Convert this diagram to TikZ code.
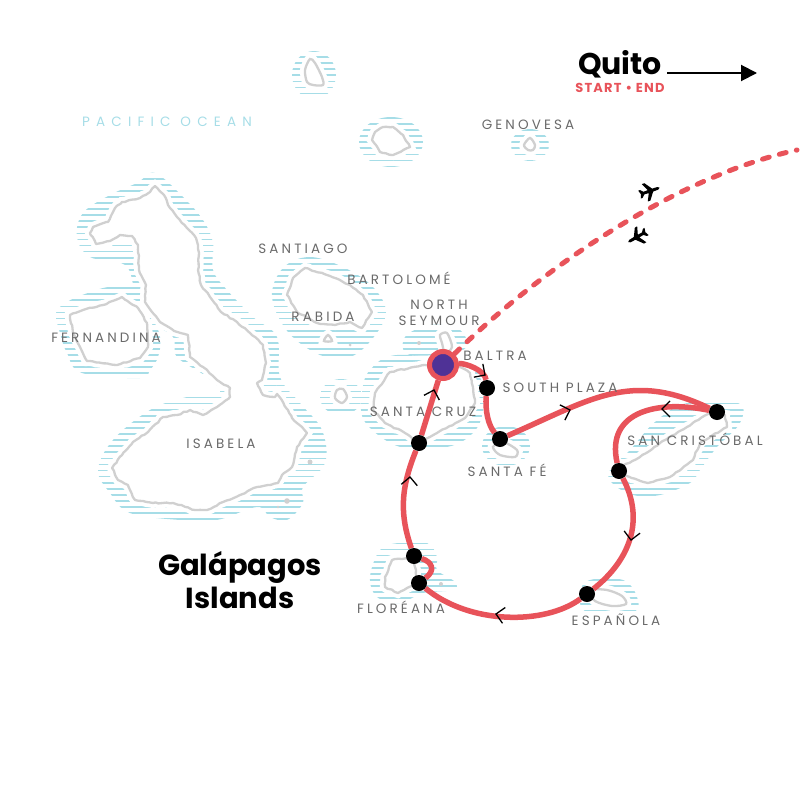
\documentclass[tikz,border=0pt]{standalone}
\usepackage{fontspec}
\setmainfont{Poppins}
\newfontfamily\placefont[LetterSpace=23]{Poppins}
\newfontfamily\oceanfont[LetterSpace=46]{Poppins}
\newfontfamily\startfont[LetterSpace=9]{Poppins}
\usetikzlibrary{arrows.meta, positioning, decorations.pathmorphing}
\definecolor{routered}{HTML}{E8535A}
\definecolor{hubpurple}{HTML}{4F3296}
\definecolor{seablue}{HTML}{A6DDE7}
\definecolor{coastgrey}{HTML}{D0D0D0}
\definecolor{placegrey}{HTML}{6A6A6A}
\pgfdeclarelayer{sea}
\pgfdeclarelayer{route}
\pgfsetlayers{sea,route,main}

\begin{document}
\begin{tikzpicture}[
    x=1pt, y=-1pt,
    water/.style={path picture={
        \foreach \k in {0,...,94}
            \draw[seablue, line width=1.7pt] (0,51+6.08*\k) -- (800,51+6.08*\k);
    }},
    coast/.style={draw=coastgrey, line width=2.3pt, line join=round,
        decorate, decoration={random steps, segment length=3.5pt, amplitude=0.6pt},
        preaction={draw=white, fill=white, line width=10pt}},
    islet/.style={draw=coastgrey, line width=2.3pt,
        preaction={draw=white, fill=white, line width=10pt}},
    speck/.style={fill=coastgrey},
    stopdot/.style={circle, fill=black, inner sep=0pt, minimum size=16pt},
    hub/.style={circle, fill=hubpurple, draw=routered, line width=5pt, inner sep=0pt, minimum size=27pt},
    leg/.style={draw=routered, line width=5.5pt},
    flight/.style={draw=routered, line width=5pt, line cap=round, dash pattern=on 7pt off 10.5pt},
    chevron/.style={draw=black, line width=1.3pt},
    place/.style={font=\placefont\fontsize{13.5}{15.5}\selectfont, text=placegrey, inner sep=0pt, align=center},
    title/.style={font=\bfseries\fontsize{29}{33}\selectfont, align=center, inner sep=0pt}
]
\pgfmathsetseed{7}
\useasboundingbox (0,0) rectangle (800,800);

% Sea around the islands
\begin{pgfonlayer}{sea}
\path[water] plot[smooth cycle, tension=0.6] coordinates {(155,173) (183,197) (203,220) (213,243) (213,270) (227,290) (253,317) (277,337) (280,377) (300,403) (322,430) (325,463) (303,487) (303,503) (287,520) (270,517) (257,507) (217,520) (180,520) (130,513) (110,493) (98,470) (113,440) (150,410) (187,397) (220,393) (207,377) (177,357) (173,337) (150,320) (135,290) (125,265) (90,257) (77,237) (83,213) (110,195) (137,183)};
\path[water] plot[smooth cycle, tension=0.6] coordinates {(56,313) (67,302) (85,294) (108,287) (138,285) (150,310) (160,337) (158,357) (150,370) (140,378) (82,373) (67,353) (60,333)};
\path[water] plot[smooth cycle, tension=0.6] coordinates {(310,257) (345,268) (373,287) (386,312) (373,338) (350,357) (320,355) (288,332) (272,297) (283,268)};
\path[water] (341,397) ellipse [x radius=21, y radius=18];
\path[water] plot[smooth cycle, tension=0.6] coordinates {(397,355) (370,370) (362,393) (365,422) (400,447) (447,447) (473,433) (483,410) (480,377) (463,363)};
\path[water] plot[smooth cycle, tension=0.6] coordinates {(430,325) (405,337) (410,355) (463,350) (460,330)};
\path[water] (506,446) ellipse [x radius=24, y radius=20];
\path[water] plot[smooth cycle, tension=0.6] coordinates {(687,403) (738,403) (740,423) (717,447) (700,470) (690,483) (660,495) (633,495) (612,483) (610,470) (630,450) (655,422)};
\path[water] plot[smooth cycle, tension=0.6] coordinates {(398,543) (427,543) (437,557) (437,570) (455,582) (453,590) (423,593) (400,603) (377,597) (370,577) (380,550)};
\path[water] plot[smooth cycle, tension=0.6] coordinates {(590,580) (623,580) (637,597) (633,612) (587,612) (580,593)};
\path[water] (314,75) ellipse [x radius=22, y radius=24];
\path[water] (391,142) ellipse [x radius=32, y radius=25];
\path[water] (530,145) ellipse [x radius=19, y radius=16];

% Isabela
\path[coast] (155,186) -- (164,195) -- (168,205) -- (177,217) -- (187,228) -- (196,238) -- (199,253) -- (198,270) -- (201,285) -- (210,297) -- (221,312) -- (237,322) -- (250,333) -- (263,345) -- (266,363) -- (262,380) -- (257,383) -- (263,395) -- (275,397) -- (277,394) -- (288,410) -- (292,418) -- (302,427) -- (307,433) -- (297,447) -- (292,467) -- (282,475) -- (278,483) -- (257,487) -- (240,495) -- (223,502) -- (207,510) -- (195,510) -- (173,503) -- (153,503) -- (135,500) -- (130,490) -- (128,485) -- (118,480) -- (112,468) -- (122,455) -- (133,442) -- (148,432) -- (163,417) -- (177,415) -- (190,410) -- (203,415) -- (217,407) -- (230,397) -- (230,388) -- (220,382) -- (203,367) -- (190,357) -- (188,335) -- (173,330) -- (160,322) -- (152,312) -- (145,302) -- (146,285) -- (139,270) -- (138,245) -- (132,236) -- (120,235) -- (110,241) -- (96,244) -- (90,233) -- (93,227) -- (108,222) -- (115,208) -- (122,202) -- (140,198) -- (150,192) -- cycle;
\fill[speck] (310,462) circle (2.5);
\fill[speck] (287,501) circle (2.8);
\fill[speck] (278,507) circle (1.3);

% Fernandina
\path[coast] (70,315) -- (83,310) -- (103,305) -- (122,297) -- (130,303) -- (138,308) -- (147,323) -- (148,347) -- (140,358) -- (117,365) -- (87,361) -- (80,347) -- (73,333) -- cycle;

% Santiago and its neighbours
\path[coast] (305,268) -- (330,276) -- (350,285) -- (363,295) -- (372,312) -- (362,328) -- (350,322) -- (335,325) -- (317,323) -- (297,312) -- (287,295) -- (293,278) -- cycle;
\path[islet] plot[smooth cycle] coordinates {(328,335) (332,341) (324,341)};
\fill[speck] (350,345) circle (1.5);
\path[islet] plot[smooth cycle] coordinates {(337,390) (343,389) (347,397) (342,403) (335,398)};

% Santa Cruz
\path[coast] (425,365) -- (390,372) -- (375,393) -- (373,410) -- (385,423) -- (405,433) -- (418,443) -- (437,433) -- (465,418) -- (475,403) -- (473,387) -- (470,373) -- (460,367) -- cycle;

% North Seymour and Baltra
\path[islet] plot[smooth cycle] coordinates {(440,335) (447,333) (452,347) (445,353) (442,343)};
\fill[speck] (419,343) circle (2);

% Santa Fe
\path[islet] plot[smooth cycle] coordinates {(493,447) (503,442) (517,450) (515,457) (500,455)};

% San Cristobal
\path[coast] (725,415) -- (727,427) -- (700,443) -- (693,460) -- (670,477) -- (648,483) -- (623,475) -- (620,467) -- (640,457) -- (660,443) -- (687,427) -- (710,412) -- cycle;

% Floreana
\path[coast] (412,557) -- (392,560) -- (385,577) -- (385,587) -- (398,593) -- (417,583) -- (416,570) -- cycle;
\fill[speck] (441,584) circle (2);

% Espanola
\path[islet] plot[smooth cycle] coordinates {(588,590) (607,590) (622,596) (626,604) (612,606) (595,601)};

% Northern islands
\path[islet] plot[smooth cycle] coordinates {(310,59) (315,63) (322,77) (323,85) (313,85) (307,82) (305,70)};
\path[coast] (383,127) -- (393,127) -- (403,135) -- (410,147) -- (393,155) -- (380,152) -- (372,140) -- (375,132) -- cycle;
\path[islet] plot[smooth cycle] coordinates {(530,138) (535,145) (533,150) (528,150) (524,145)};
\end{pgfonlayer}

% Stops
\node[hub] (baltra) at (443,365) {};
\node[stopdot] (plaza) at (487,388) {};
\node[stopdot] (santafe) at (500,439) {};
\node[stopdot] (cristobaleast) at (717,412) {};
\node[stopdot] (cristobalwest) at (619,471) {};
\node[stopdot] (espanola) at (587,594) {};
\node[stopdot] (floreanasouth) at (419,583) {};
\node[stopdot] (floreananorth) at (414,556) {};
\node[stopdot] (santacruz) at (419,443) {};
\coordinate (quitotip) at (757,73);
\coordinate (flightend) at (797,150);

% Route
\begin{pgfonlayer}{route}
\draw[flight] (baltra) .. controls (540,270) and (674,177) .. (flightend);
\draw[leg] (baltra) .. controls (465,363) and (485,370) .. (plaza);
\draw[leg] (plaza) .. controls (485,410) and (488,425) .. (santafe);
\draw[leg] (santafe) .. controls (590,400) and (630,370) .. (cristobaleast);
\draw[leg] (cristobaleast) .. controls (660,400) and (605,410) .. (cristobalwest);
\draw[leg] (cristobalwest) .. controls (645,520) and (630,560) .. (espanola);
\draw[leg] (espanola) .. controls (545,625) and (470,625) .. (floreanasouth);
\draw[leg] (floreanasouth) .. controls (436,570) and (432,562) .. (floreananorth);
\draw[leg] (floreananorth) .. controls (400,515) and (400,490) .. (santacruz);
\draw[leg] (santacruz) -- (baltra);
\end{pgfonlayer}

% Direction marks
\foreach \px/\py/\ang in {434/390/73, 410/477/85, 485/375/-34, 570/410/18, 662/409/180, 631/540/-98, 496/614/170}
    \draw[chevron, shift={(\px,\py)}, rotate=\ang] (-8,-8) -- (0,0) -- (-8,8);

% Planes
\foreach \px/\py/\ang in {650/191/19, 637/237/210}
    \fill[shift={(\px,\py)}, rotate=\ang, scale=0.92] (11,0) -- (9,-1.5) -- (3,-1.7) -- (-3,-10) -- (-6,-10) -- (-2,-1.7) -- (-7,-1.5) -- (-10,-4.5) -- (-12,-4.5) -- (-10.5,0) -- (-12,4.5) -- (-10,4.5) -- (-7,1.5) -- (-2,1.7) -- (-6,10) -- (-3,10) -- (3,1.7) -- (9,1.5) -- cycle;

% Place names
\node[place, font=\oceanfont\fontsize{13.5}{15.5}\selectfont, text=seablue] (pacific) at (167,122) {PACIFIC OCEAN};
\node[place] (genovesa) at (528,125) {GENOVESA};
\node[place] (santiago) at (303,249) {SANTIAGO};
\node[place] (bartolome) at (399,278) {BARTOLOMÉ};
\node[place] (rabida) at (323,317) {RABIDA};
\node[place] (seymour) at (439,313) {NORTH\\SEYMOUR};
\node[place] (baltraname) at (495,356) {BALTRA};
\node[place] (plazaname) at (560,388) {SOUTH PLAZA};
\node[place] (cristobal) at (695,439) {SAN CRISTÓBAL};
\node[place] (cruz) at (423,412) {SANTA CRUZ};
\node[place] (fe) at (507,470) {SANTA FÉ};
\node[place] (fernandina) at (106,338) {FERNANDINA};
\node[place] (isabela) at (221,444) {ISABELA};
\node[place] (floreana) at (401,607) {FLORÉANA};
\node[place] (espanolaname) at (616,620) {ESPAÑOLA};

% Titles
\node[title] (galapagos) at (240,580) {Galápagos\\Islands};
\node[title, font=\bfseries\fontsize{30}{34}\selectfont, outer sep=5pt] (quito) at (620,64) {Quito};
\node[inner sep=0pt, font=\startfont\bfseries\fontsize{13}{15}\selectfont, text=routered] (startend) at (620,88) {START • END};
\draw[line width=2pt, -{Triangle[length=16pt, width=16pt]}] (quito.east |- quitotip) -- (quitotip);

\end{tikzpicture}
\end{document}
